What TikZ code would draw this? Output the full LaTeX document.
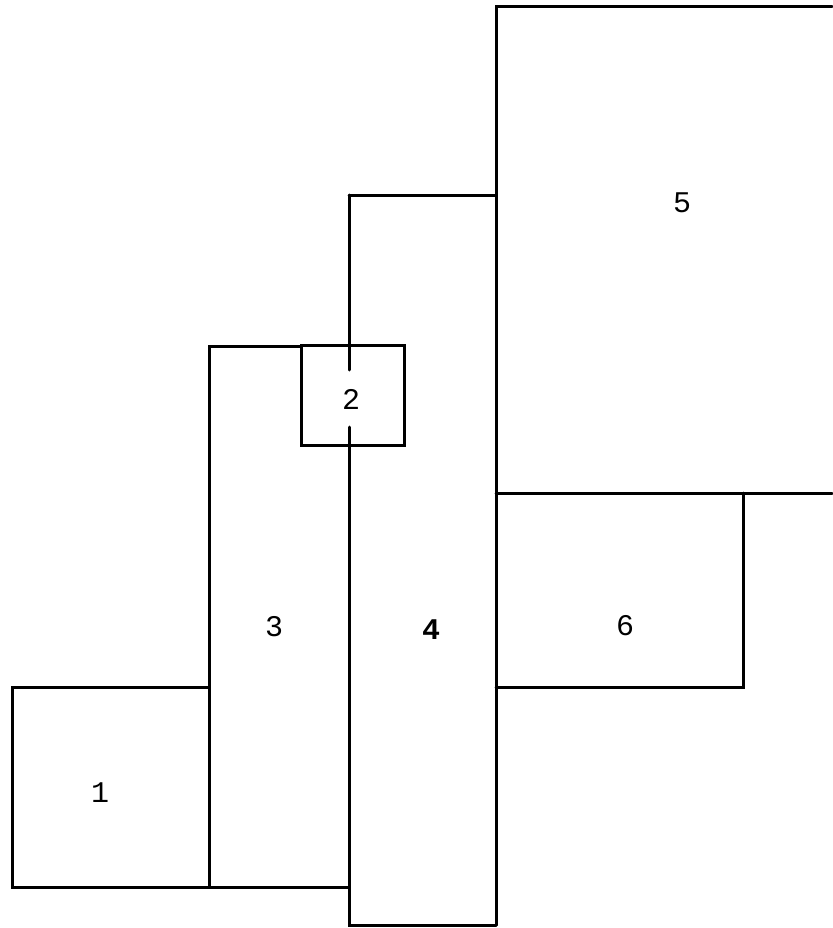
\documentclass[tikz,border=0pt]{standalone}
\usepackage{fontspec}
\newfontfamily\typefont{Liberation Mono}
\usepackage{tikz}
\usetikzlibrary{calc}

\begin{document}
\begin{tikzpicture}[x=1pt,y=-1pt,
    wall/.style={line width=3pt,line cap=round,line join=miter},
    lbl/.style={font=\typefont\fontsize{30}{32}\selectfont,inner sep=0pt}]
  \useasboundingbox (0,0) rectangle (832,928);
  % Room corners
  \coordinate (c5a) at (496,7);
  \coordinate (c5b) at (832,7);
  \coordinate (c5c) at (832,493);
  \coordinate (c4a) at (349,195);
  \coordinate (c4b) at (496,195);
  \coordinate (c4c) at (496,925);
  \coordinate (c4d) at (349,925);
  \coordinate (c6a) at (496,493);
  \coordinate (c6b) at (743,493);
  \coordinate (c6c) at (743,687);
  \coordinate (c6d) at (496,687);
  \coordinate (c3a) at (209,346);
  \coordinate (c3b) at (301,346);
  \coordinate (c3c) at (209,887);
  \coordinate (c3d) at (349,887);
  \coordinate (c1a) at (12,687);
  \coordinate (c1b) at (209,687);
  \coordinate (c1c) at (12,887);
  % Walls
  \draw[wall](c5b)--(c5a)--(c4c);
  \draw[wall](c6a)--(c5c);
  \draw[wall](c6b)--(c6c)--(c6d);
  \draw[wall](c4a)--(c4b);
  \draw[wall](c4a)--(349,370);
  \draw[wall](349,427)--(c4d)--(c4c);
  \draw[wall](301,345) rectangle (404,445);
  \draw[wall](c3b)--(c3a)--(c3c);
  \draw[wall](c1b)--(c1a)--(c1c)--(c3d);
  % Room numbers
  \node[lbl] (r1) at(100,793){1};
  \node[lbl] (r2) at(351,399){2};
  \node[lbl] (r3) at(274,627){3};
  \node[lbl,font=\typefont\bfseries\fontsize{30}{32}\selectfont] (r4) at(431,630){4};
  \node[lbl] (r5) at(682,203){5};
  \node[lbl] (r6) at(625,626){6};
\end{tikzpicture}
\end{document}
